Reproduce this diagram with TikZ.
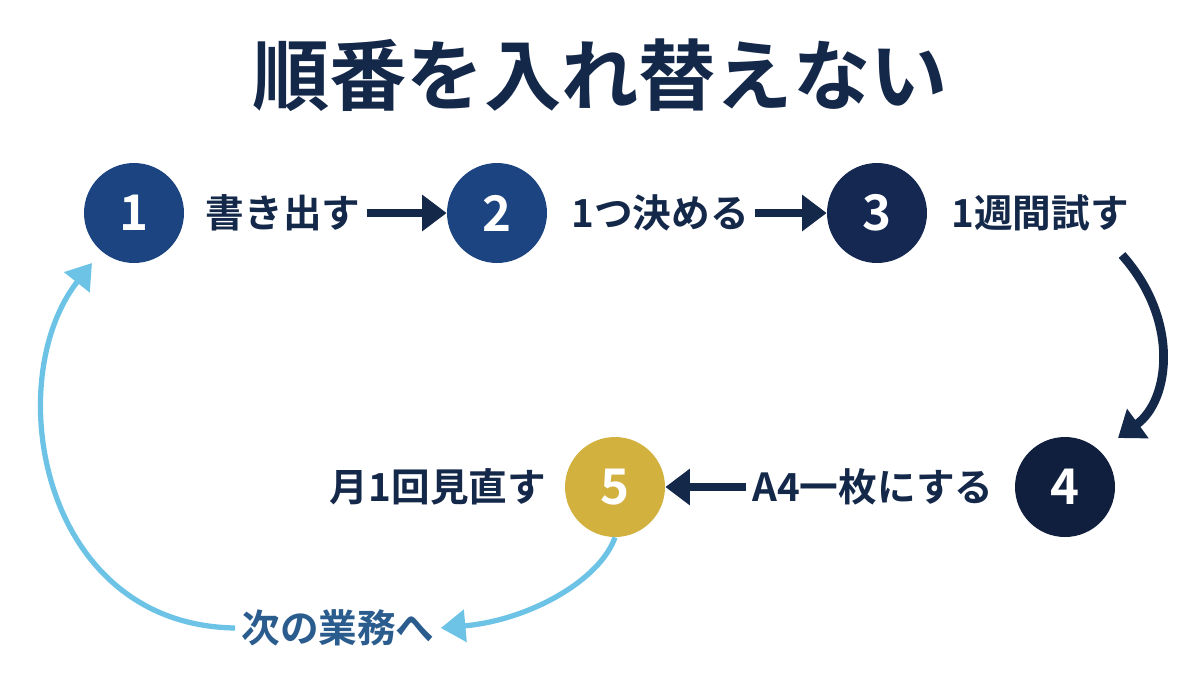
\documentclass[tikz,border=0pt]{standalone}
\usepackage{fontspec}
\setmainfont{Noto Sans CJK JP}[BoldFont={* Bold}]
\usetikzlibrary{arrows.meta}
\definecolor{navy}{HTML}{14284A}
\definecolor{stepblue}{HTML}{1B4480}
\definecolor{stepdark}{HTML}{142852}
\definecolor{stepnavy}{HTML}{0F1F3D}
\definecolor{gold}{HTML}{D2B13F}
\definecolor{sky}{HTML}{6CC3E6}
\definecolor{loopblue}{HTML}{2A5C8E}
\tikzset{
  stepnode/.style={circle, minimum size=2cm, inner sep=0pt, text=white, font=\bfseries\fontsize{28}{28}\selectfont},
  steplabel/.style={text=navy, font=\bfseries\fontsize{22}{22}\selectfont},
  flow/.style={-{Triangle[length=14pt,width=20pt]}, line width=5pt, draw=navy},
  loopback/.style={-{Triangle[length=14pt,width=18pt]}, line width=3pt, draw=sky}
}
\begin{document}
\begin{tikzpicture}[x=0.02cm,y=-0.02cm]
  \useasboundingbox (0,0) rectangle (1200,691);
  % title
  \node[text=navy, font=\bfseries\fontsize{44}{44}\selectfont] (title) at (600,75) {順番を入れ替えない};
  % steps
  \node[stepnode, fill=stepblue] (s1) at (134,213) {1};
  \node[stepnode, fill=stepblue] (s2) at (497,213) {2};
  \node[stepnode, fill=stepdark] (s3) at (877,213) {3};
  \node[stepnode, fill=stepnavy] (s4) at (1065,487) {4};
  \node[stepnode, fill=gold] (s5) at (615,487) {5};
  % labels
  \node[steplabel] (l1) at (283,213) {書き出す};
  \node[steplabel] (l2) at (660,213) {1つ決める};
  \node[steplabel] (l3) at (1040,213) {1週間試す};
  \node[steplabel] (l4) at (873,487) {A4一枚にする};
  \node[steplabel] (l5) at (438,487) {月1回見直す};
  \node[text=loopblue, font=\bfseries\fontsize{22}{22}\selectfont] (next) at (338,628) {次の業務へ};
  % arrows
  \draw[flow] (l1.east) -- (s2.west);
  \draw[flow] (l2.east) -- (s3.west);
  \draw[flow] (l4.west) -- (s5.east);
  \draw[flow] (1122,255) .. controls (1180,320) and (1170,400) .. (1118,438);
  % loop back
  \draw[loopback] (s5.south) .. controls (600,580) and (530,620) .. (next.east);
  \draw[loopback] (next.west) .. controls (40,625) and (0,380) .. (92,263);
\end{tikzpicture}
\end{document}
